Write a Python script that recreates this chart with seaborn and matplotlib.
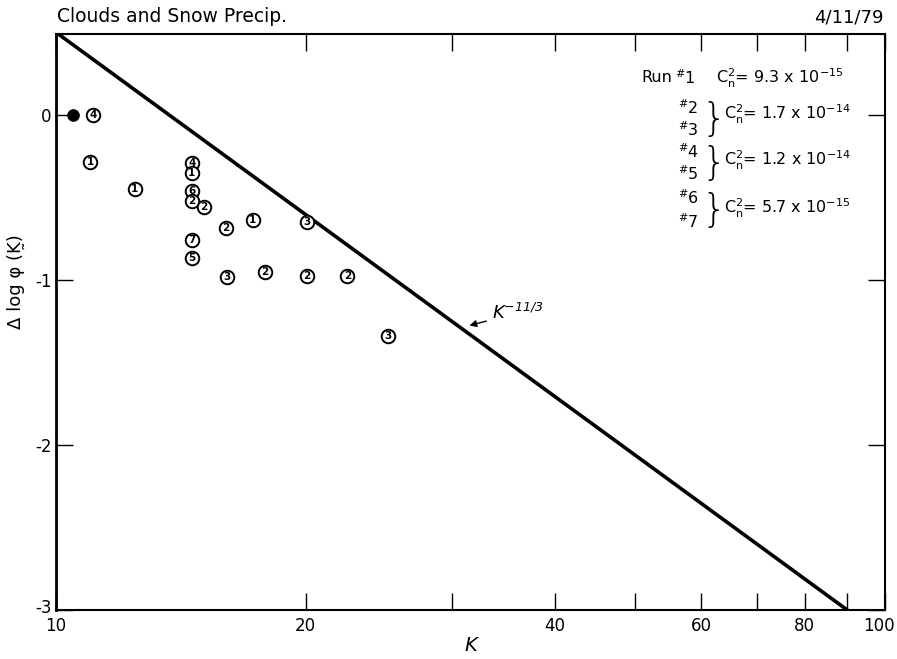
import matplotlib
matplotlib.use("Agg")
import matplotlib.pyplot as plt
import matplotlib.transforms as mtransforms
import seaborn as sns
import pandas as pd
from matplotlib.ticker import FixedLocator, NullLocator, FuncFormatter, NullFormatter

# ---- data ----
k_vals = [11.0, 12.45, 14.58, 14.58, 14.58, 14.58, 15.09, 16.03, 14.58, 14.58,
          16.07, 17.27, 20.06, 17.87, 20.06, 22.46, 25.12, 11.08]
dlog_vals = [-0.287, -0.447, -0.293, -0.353, -0.46, -0.519, -0.56, -0.687, -0.76, -0.865,
             -0.98, -0.636, -0.65, -0.953, -0.974, -0.976, -1.339, 0.0]
run_ids = [1, 1, 4, 1, 6, 2, 2, 2, 7, 5, 3, 1, 3, 2, 2, 2, 3, 4]
filled_k = [10.48]
filled_dlog = [0.0]
line_k = [10.0, 90.05]
line_dlog = [0.5, -3.0]
x_ticks = [10, 20, 30, 40, 50, 60, 70, 80, 90, 100]
x_labels_at = [10, 20, 40, 60, 80, 100]
y_ticks = [0, -1, -2, -3]
legend_runs = ["1", "2", "3", "4", "5", "6", "7"]
legend_cn2 = [r"C$_n^2$= 9.3 x 10$^{-15}$", r"C$_n^2$= 1.7 x 10$^{-14}$",
              r"C$_n^2$= 1.2 x 10$^{-14}$", r"C$_n^2$= 5.7 x 10$^{-15}$"]

sns.set_style("white")
plt.rcParams['font.family'] = ['DejaVu Sans']
plt.rcParams['mathtext.default'] = 'regular'
for key in ['text.color', 'axes.labelcolor', 'xtick.color', 'ytick.color', 'axes.edgecolor']:
    plt.rcParams[key] = 'black'

W, H = 897, 659
fig = plt.figure(figsize=(W / 100, H / 100), dpi=100)
L, R, T, B = 56, 885, 34, 610
ax = fig.add_axes([L / W, 1 - B / H, (R - L) / W, (B - T) / H])

def fx(px):
    return px / W

def fy(py):
    return 1 - py / H

df = pd.DataFrame({"K": k_vals, "dlog": dlog_vals, "run": run_ids})
line_df = pd.DataFrame({"K": line_k, "dlog": line_dlog})
filled_df = pd.DataFrame({"K": filled_k, "dlog": filled_dlog})

ax.set_xscale("log")
sns.lineplot(data=line_df, x="K", y="dlog", ax=ax, color="black", lw=2.6, sort=False)
sns.scatterplot(data=df, x="K", y="dlog", ax=ax, s=95, facecolor="white",
                edgecolor="black", linewidth=1.4, zorder=3)
sns.scatterplot(data=filled_df, x="K", y="dlog", ax=ax, s=70, color="black",
                edgecolor="black", zorder=3)
for k, d, r in zip(df["K"], df["dlog"], df["run"]):
    ax.text(k, d, str(r), ha="center", va="center", fontsize=7.5, fontweight="bold",
            zorder=4)

ax.set_xlim(10, 100)
ax.set_ylim(-3, 0.49)

ax.xaxis.set_major_locator(FixedLocator(x_ticks))
ax.xaxis.set_major_formatter(FuncFormatter(
    lambda v, p: str(int(round(v))) if int(round(v)) in x_labels_at else ""))
ax.xaxis.set_minor_locator(NullLocator())
ax.xaxis.set_minor_formatter(NullFormatter())
ax.tick_params(axis="x", which="major", direction="in", length=12, width=1,
               top=True, bottom=True, labelsize=12, pad=5)
ax.yaxis.set_major_locator(FixedLocator(y_ticks))
ax.yaxis.set_major_formatter(FuncFormatter(lambda v, p: "%d" % round(v)))
ax.tick_params(axis="y", which="major", direction="in", length=12, width=1,
               left=True, right=True, labelsize=12, pad=3)

for sp in ax.spines.values():
    sp.set_color("black")
    sp.set_linewidth(1.5)
ax.spines["left"].set_linewidth(2.0)

ax.set_xlabel("K", fontsize=14, style="italic", labelpad=1)
ax.set_ylabel("Δ log φ (K\u0330)", fontsize=13)
ax.yaxis.set_label_coords(-0.037, 0.57)

fig.canvas.draw()
shift_left = mtransforms.ScaledTranslation(-6 / 100, 0, fig.dpi_scale_trans)
for lab in ax.get_xticklabels():
    if lab.get_text() == "100":
        lab.set_transform(lab.get_transform() + shift_left)
shift_up = mtransforms.ScaledTranslation(0, 4 / 100, fig.dpi_scale_trans)
for lab in ax.get_yticklabels():
    if lab.get_text() == "-3":
        lab.set_transform(lab.get_transform() + shift_up)

fig.text(fx(57), fy(17), "Clouds and Snow Precip.", fontsize=13.5, va="center", ha="left")
fig.text(fx(884), fy(17), "4/11/79", fontsize=13, va="center", ha="right")

ax.annotate(r"K$^{-11/3}$", xy=(31.3, -1.28), xytext=(33.6, -1.2),
            fontsize=13, style="italic", ha="left", va="center",
            arrowprops=dict(arrowstyle="-|>", color="black", lw=1.0, mutation_scale=10))

# legend-like annotation (upper right)
fs = 11.5
fig.text(fx(641), fy(78), "Run", fontsize=fs, va="center", ha="left")
fig.text(fx(675), fy(78), r"$^{\#}$" + legend_runs[0], fontsize=fs, va="center", ha="left")
fig.text(fx(716), fy(78), legend_cn2[0], fontsize=fs, va="center", ha="left")
group_y = [(108, 130, 114), (152, 174, 160), (198, 222, 208)]
for gi, (ya, yb, yt) in enumerate(group_y):
    a, b = legend_runs[1 + 2 * gi], legend_runs[2 + 2 * gi]
    fig.text(fx(678), fy(ya), r"$^{\#}$" + a, fontsize=fs, va="center", ha="left")
    fig.text(fx(678), fy(yb), r"$^{\#}$" + b, fontsize=fs, va="center", ha="left")
    fig.text(fx(701), fy((ya + yb) / 2 + 1), "}", fontsize=28, va="center", ha="left",
             fontweight="light")
    fig.text(fx(724), fy(yt), legend_cn2[1 + gi], fontsize=fs, va="center", ha="left")

fig.savefig("out.png", dpi=100, facecolor="white")
